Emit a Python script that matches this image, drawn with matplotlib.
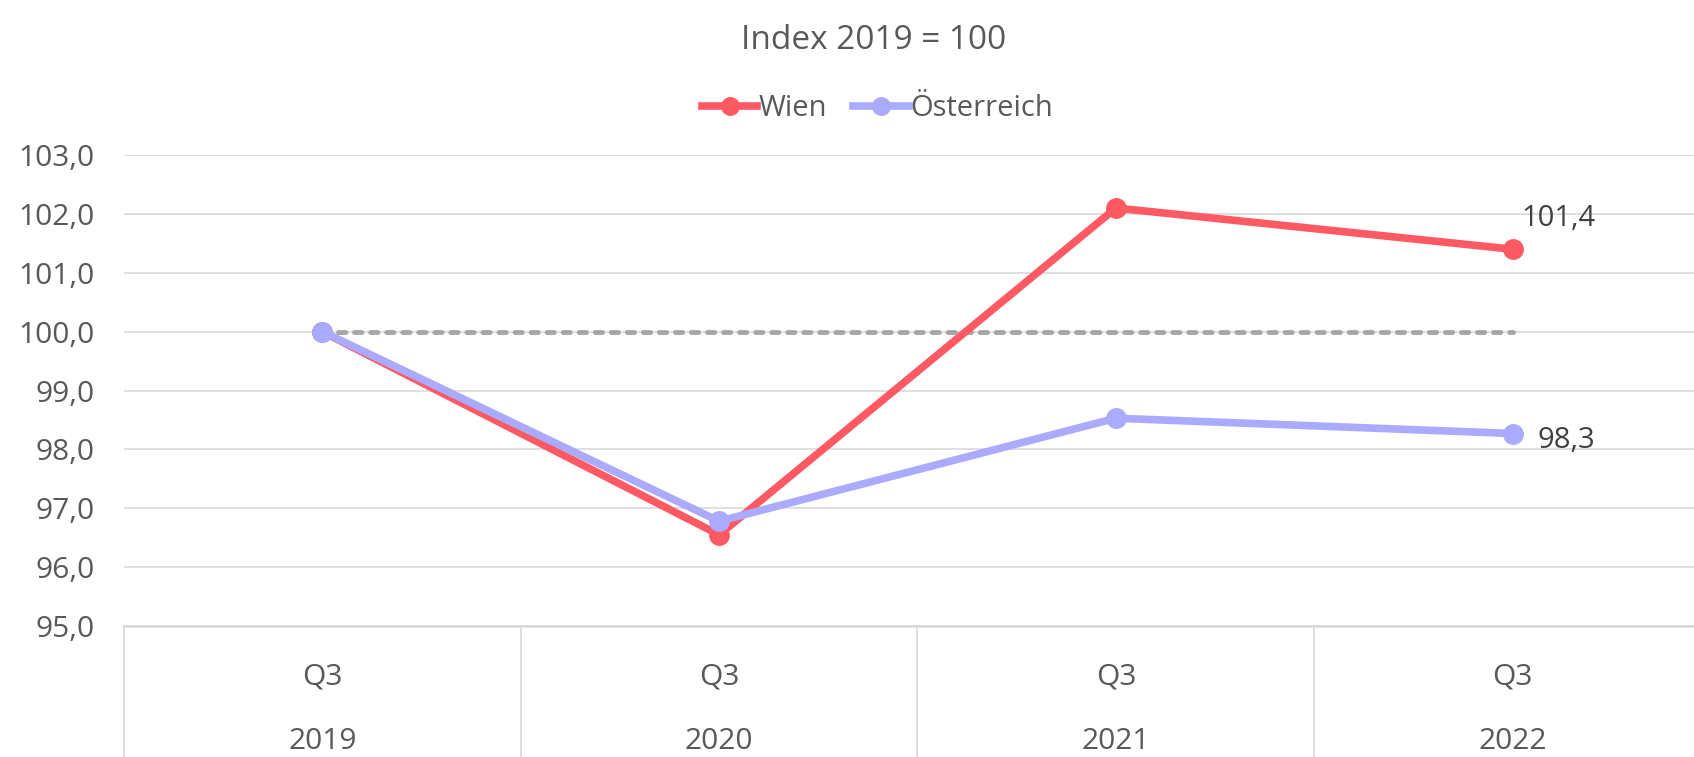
import matplotlib.pyplot as plt
import matplotlib.transforms as mtransforms

plt.rcParams['font.family'] = ['Open Sans', 'DejaVu Sans']

quarters = ['Q3', 'Q3', 'Q3', 'Q3']
years = ['2019', '2020', '2021', '2022']
wien = [100.0, 96.55, 102.1, 101.4]
oesterreich = [100.0, 96.78, 98.53, 98.27]
baseline = [100.0, 100.0, 100.0, 100.0]

text_color = '#595959'
grid_color = '#D9D9D9'

fig = plt.figure(figsize = (16.94, 7.57), dpi = 100)
# plot area runs past the right edge of the picture, like the cropped original
ax = fig.add_axes([0.0732, 0.173, 0.9368, 0.6222])

x = list(range(len(years)))

ax.plot(x, baseline, color = '#A6A6A6', linewidth = 3.5, linestyle = (0, (1.5, 1.8)),
        dash_capstyle = 'round', zorder = 2)
ax.plot(x, wien, color = '#FF5A64', linewidth = 5.5, marker = 'o', markersize = 14,
        label = 'Wien', zorder = 3, solid_joinstyle = 'round')
ax.plot(x, oesterreich, color = '#AAAAFF', linewidth = 5.5, marker = 'o', markersize = 14,
        label = 'Österreich', zorder = 4, solid_joinstyle = 'round')

# labels for the last point
ax.annotate(f'{wien[-1]:.1f}'.replace('.', ','), (x[-1], wien[-1]), xytext = (6, 12),
            textcoords = 'offset points', fontsize = 21, color = '#404040', ha = 'left', va = 'bottom')
ax.annotate(f'{oesterreich[-1]:.1f}'.replace('.', ','), (x[-1], oesterreich[-1]), xytext = (18, -5),
            textcoords = 'offset points', fontsize = 21, color = '#404040', ha = 'left', va = 'center')

ax.set_xlim(-0.5, len(years) - 0.5)
ax.set_ylim(95, 103)
ax.set_yticks(range(95, 104))
ax.set_yticklabels([f'{v},0' for v in range(95, 104)], fontsize = 21.5, color = text_color)
ax.tick_params(axis = 'y', length = 0, pad = 21)

ax.set_xticks(x)
ax.set_xticklabels(quarters, fontsize = 21.5, color = text_color)
ax.tick_params(axis = 'x', length = 0, pad = 26)

trans = mtransforms.blended_transform_factory(ax.transData, ax.transAxes)
for i, year in enumerate(years):
    ax.text(i, -0.245, year, transform = trans, ha = 'center', va = 'center',
            fontsize = 21.5, color = text_color)
for b in range(len(years) + 1):
    ax.plot([b - 0.5, b - 0.5], [0, -0.3], transform = trans, color = grid_color,
            linewidth = 1.2, clip_on = False)

ax.grid(axis = 'y', color = grid_color, linewidth = 1.2)
ax.set_axisbelow(True)
for side in ['left', 'right', 'top']:
    ax.spines[side].set_visible(False)
ax.spines['bottom'].set_color(grid_color)
ax.spines['bottom'].set_linewidth(1.8)

fig.text(0.516, 0.946, 'Index 2019 = 100', ha = 'center', va = 'center', fontsize = 24, color = text_color)
fig.legend(loc = 'center', bbox_to_anchor = (0.518, 0.857), ncol = 2, frameon = False,
           fontsize = 21, handlelength = 1.9, handletextpad = 0.05, columnspacing = 0.9,
           labelcolor = text_color, markerscale = 0.9)

fig.savefig('out.png', dpi = 100)
